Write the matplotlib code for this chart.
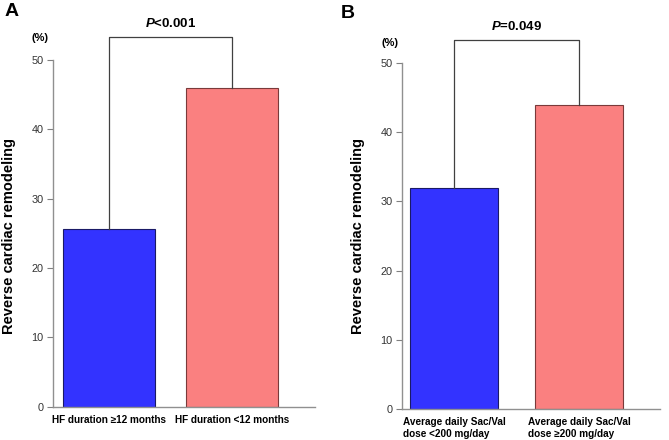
import matplotlib.pyplot as plt

plt.rcParams['font.family'] = ['Liberation Sans', 'DejaVu Sans']
plt.rcParams['mathtext.fontset'] = 'custom'
plt.rcParams['mathtext.it'] = 'Liberation Sans:italic:bold'
plt.rcParams['mathtext.rm'] = 'Liberation Sans:bold'

# data
labels_a = ['HF duration \u226512 months', 'HF duration <12 months']
values_a = [25.6, 46.0]
p_a = '$P$<0.001'

labels_b = ['Average daily Sac/Val\ndose <200 mg/day', 'Average daily Sac/Val\ndose \u2265200 mg/day']
values_b = [31.9, 44.0]
p_b = '$P$=0.049'

yticks = [0, 10, 20, 30, 40, 50]
fills = ['#3333ff', '#fa8080']
edges = ['#1a1a66', '#7a3a3a']

fig = plt.figure(figsize=(6.69, 4.4), dpi=100)


def panel(rect, xlim, width, labels, values, ptext, ylab_x, ml, pct_x, pct_y):
    ax = fig.add_axes(rect)
    x = [0, 1]
    ax.bar(x, values, width=width, color=fills, edgecolor=edges, linewidth=0.8, zorder=2)
    ax.set_xlim(*xlim)
    ax.set_ylim(0, 50)
    ax.set_yticks(yticks)
    ax.tick_params(axis='y', length=4, width=0.8, color='#808080', labelsize=7.8,
                   labelcolor='#333333', pad=3)
    ax.set_xticks(x)
    ax.set_xticklabels(labels, fontsize=7.2, fontweight='bold', multialignment=ml,
                       linespacing=1.25)
    ax.tick_params(axis='x', length=0, pad=6)
    for s in ['top', 'right']:
        ax.spines[s].set_visible(False)
    for s in ['left', 'bottom']:
        ax.spines[s].set_color('#909090')
        ax.spines[s].set_linewidth(1.0)
    # significance bracket
    top = 53.3
    ax.plot([0, 0, 1, 1], [values[0], top, top, values[1]], color='#404040',
            lw=0.9, clip_on=False, zorder=3)
    ax.text(0.5, top + 1.1, ptext, ha='center', va='bottom', fontsize=9.5,
            fontweight='bold', clip_on=False)
    ax.text(pct_x, pct_y, '(%)', transform=ax.transAxes, ha='center', va='center',
            fontsize=8, fontweight='bold')
    fig.text(ylab_x, 0.464, 'Reverse cardiac remodeling', rotation=90, ha='center',
             va='center', fontsize=10.5, fontweight='bold')
    return ax


panel([53 / 669, 33.5 / 440, 262 / 669, 346.5 / 440], (-0.453, 1.67), 0.745,
      labels_a, values_a, p_a, 9 / 669, 'center', -13 / 262, 1 + 22 / 346.5)
panel([402 / 669, 31 / 440, 258 / 669, 346 / 440], (-0.416, 1.648), 0.71,
      labels_b, values_b, p_b, 358 / 669, 'left', -12 / 258, 1 + 20 / 346)

fig.text(5 / 669, 1 - 16 / 440, 'A', fontsize=14, fontweight='bold')
fig.text(341 / 669, 1 - 18 / 440, 'B', fontsize=14, fontweight='bold')

fig.savefig('out.png', dpi=100)
